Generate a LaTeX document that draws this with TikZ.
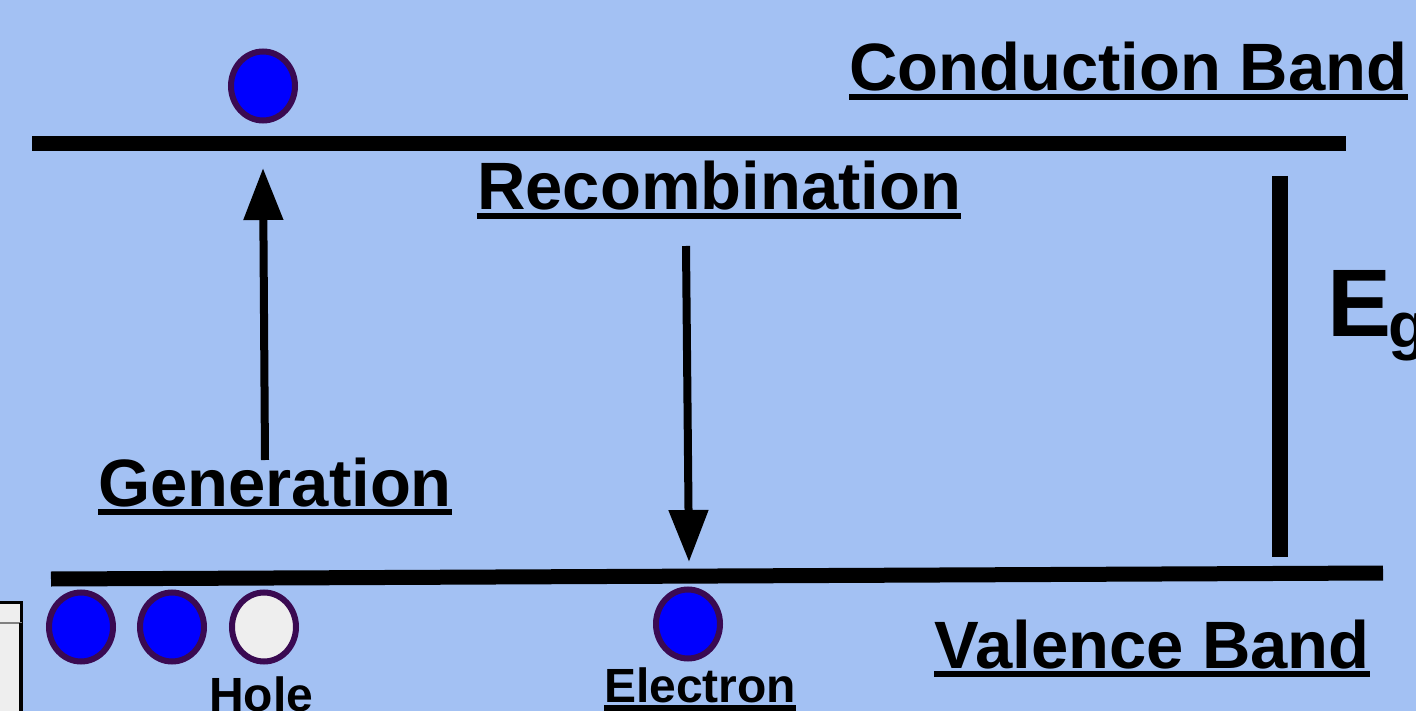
\documentclass[tikz,border=0pt]{standalone}
\usepackage{fontspec}
\setmainfont{Liberation Sans}
\usetikzlibrary{arrows.meta,shapes.geometric}
\definecolor{bgblue}{RGB}{163,193,243}
\definecolor{rim}{RGB}{58,10,82}
\definecolor{eblue}{RGB}{0,0,255}
\definecolor{holefill}{RGB}{238,238,238}
\tikzset{
  band/.style={line width=15, line cap=butt},
  particle/.style={ellipse, draw=rim, line width=6, minimum width=64, minimum height=69, inner sep=0},
  electron/.style={particle, fill=eblue},
  hole/.style={particle, fill=holefill},
  bigtxt/.style={anchor=base west, inner sep=0, font=\bfseries\fontsize{67}{70}\selectfont},
  smalltxt/.style={anchor=base west, inner sep=0, font=\bfseries\fontsize{48}{50}\selectfont},
  uline/.style={line width=5.5},
  transition/.style={line width=8, -{Triangle[length=52, width=38]}}
}
\newcommand{\underrule}[2][6]{\draw[uline] ([yshift=-#1]#2.base west) -- ([yshift=-#1]#2.base east);}
\begin{document}
\begin{tikzpicture}[x=1pt, y=-1pt]
  \useasboundingbox (0,0) rectangle (1416,711);
  \clip (0,0) rectangle (1416,711);
  \fill[bgblue] (0,0) rectangle (1416,711);

  % partly visible panel at the lower left
  \filldraw[fill=holefill, draw=black, line width=3] (-10,602) -- (21,602) -- (21,720) -- (-10,720);
  \draw[gray, line width=2] (0,623) -- (22,623);
  \draw[black, line width=4] (21,623) -- (21,720);

  % energy bands
  \coordinate (cbL) at (32,144);
  \coordinate (cbR) at (1346,144);
  \coordinate (vbL) at (51,579);
  \coordinate (vbR) at (1383,573);
  \draw[band] (cbL) -- (cbR);
  \draw[band] (vbL) -- (vbR);

  % band gap bar
  \coordinate (egT) at (1280,176);
  \coordinate (egB) at (1280,557);
  \draw[line width=16] (egT) -- (egB);
  \node[anchor=base west, inner sep=0, font=\bfseries\fontsize{96}{100}\selectfont] (eg) at (1327,337) {E};
  \node[anchor=base west, inner sep=0, font=\bfseries\fontsize{64}{68}\selectfont] (egsub) at (1388,347) {g};

  % labels
  \node[bigtxt] (cb) at (849,91) {Conduction Band};
  \underrule{cb}
  \node[bigtxt] (vb) at (934,668) {Valence Band};
  \underrule{vb}
  \node[bigtxt] (rec) at (477,210) {Recombination};
  \underrule{rec}
  \node[bigtxt] (gen) at (98,506) {Generation};
  \underrule{gen}
  \node[smalltxt] (holelbl) at (209,711) {Hole};
  \node[smalltxt] (elelbl) at (604,702) {Electron};
  \underrule[6]{elelbl}

  % carriers
  \node[electron] (ecb) at (263,86) {};
  \node[electron] (v1) at (81,627) {};
  \node[electron] (v2) at (172,627) {};
  \node[hole] (h1) at (264,627) {};
  \node[electron] (evb) at (688,624) {};

  % transitions
  \coordinate (g0) at (265,460);
  \coordinate (g1) at (263,168);
  \coordinate (r0) at (686,246);
  \coordinate (r1) at (689,562);
  \draw[transition] (g0) -- (g1);
  \draw[transition] (r0) -- (r1);
\end{tikzpicture}
\end{document}
